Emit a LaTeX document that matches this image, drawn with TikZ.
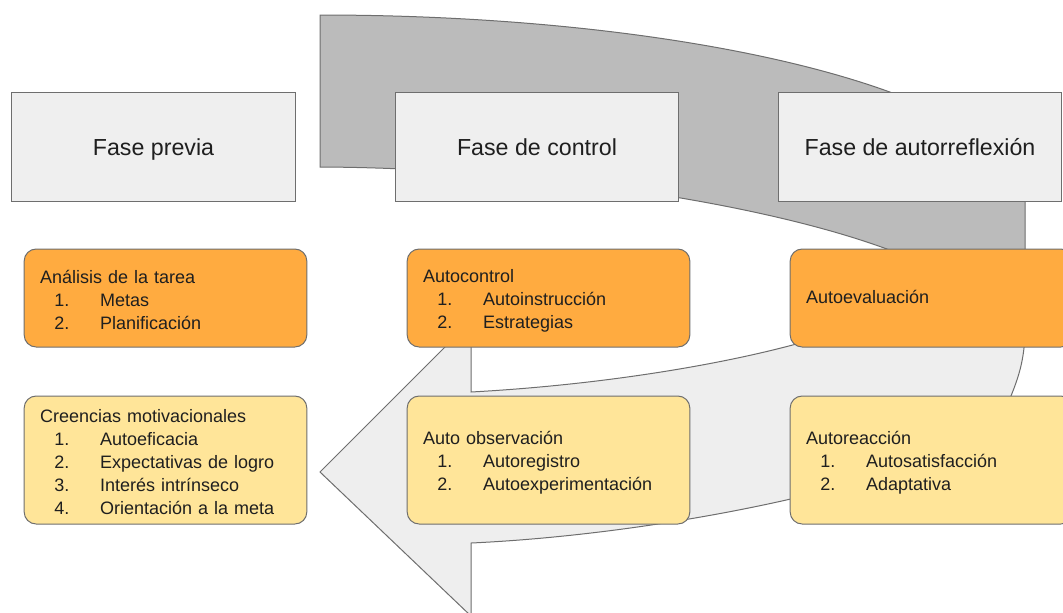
\documentclass[tikz,border=0pt]{standalone}
\usepackage{fontspec}
\setmainfont{Liberation Sans}
\definecolor{fasegray}{HTML}{EFEFEF}
\definecolor{tareaorange}{HTML}{FFAB40}
\definecolor{motivyellow}{HTML}{FFE599}
\definecolor{backgray}{HTML}{BBBBBB}
\definecolor{frontgray}{HTML}{EEEEEE}
\definecolor{edgegray}{HTML}{6E6E6E}
\definecolor{textblack}{HTML}{1F1F1F}
% struts and one numbered line of a list box
\newcommand{\ls}{\rule[-2pt]{0pt}{12.8pt}}
\newcommand{\hd}{\rule{0pt}{14.3pt}}
\newcommand{\itm}[2]{\\\ls\hspace*{10.7pt}\makebox[34.3pt][l]{#1}#2}
\begin{document}
\begin{tikzpicture}[x=0.75pt,y=-0.75pt,
	fase/.style={draw=edgegray,fill=fasegray,line width=0.75pt,minimum width=212.5pt,minimum height=81.75pt,text height=15.5pt,text depth=1.5pt,font=\fontsize{17.4}{20}\selectfont,text=textblack},
	listbox/.style={draw=edgegray,line width=0.75pt,rounded corners=9pt,text width=188pt,inner xsep=12pt,align=left,font=\fontsize{13.5}{17.25}\selectfont,text=textblack},
	orangebox/.style={listbox,fill=tareaorange,minimum height=73.5pt},
	yellowbox/.style={listbox,fill=motivyellow,minimum height=96pt},
	cyclearrow/.style={draw=edgegray,line width=0.75pt,line join=miter}]
	\useasboundingbox (0,0) rectangle (1063,612);
	% back side of the cycle arrow
	\draw[cyclearrow,fill=backgray] (320,15) .. controls (709,15) and (1025,99) .. (1025,202)
		-- (1025,300) -- (930,300) -- (905,256)
		.. controls (780,205) and (540,168) .. (320,167) -- cycle;
	% front side with the head
	\draw[cyclearrow,fill=frontgray] (471,392) .. controls (600,385) and (720,365) .. (800,343)
		-- (1025,320) .. controls (1026,360) and (1018,380) .. (1005,410)
		.. controls (970,460) and (880,480) .. (795,498)
		.. controls (700,520) and (580,538) .. (471,543)
		-- (471,616) -- (320,472) -- (471,321) -- cycle;
	% phases
	\node[fase] (previa) at (153.5,146.5) {Fase previa};
	\node[fase] (control) at (537,146.5) {Fase de control};
	\node[fase] (reflexion) at (920,146.5) {Fase de autorreflexión};
	% processes
	\node[orangebox] (tarea) at (165.5,298) {\hd Análisis de la tarea\itm{1.}{Metas}\itm{2.}{Planificación}};
	\node[orangebox] (autocontrol) at (548.5,298) {\hd Autocontrol\itm{1.}{Autoinstrucción}\itm{2.}{Estrategias}};
	\node[orangebox] (autoevaluacion) at (931.5,298) {\ls Autoevaluación};
	\node[yellowbox] (creencias) at (165.5,460) {\hd Creencias motivacionales\itm{1.}{Autoeficacia}\itm{2.}{Expectativas de logro}\itm{3.}{Interés intrínseco}\itm{4.}{Orientación a la meta}};
	\node[yellowbox] (observacion) at (548.5,460) {\hd Auto observación\itm{1.}{Autoregistro}\itm{2.}{Autoexperimentación}};
	\node[yellowbox] (reaccion) at (931.5,460) {\hd Autoreacción\itm{1.}{Autosatisfacción}\itm{2.}{Adaptativa}};
\end{tikzpicture}
\end{document}
